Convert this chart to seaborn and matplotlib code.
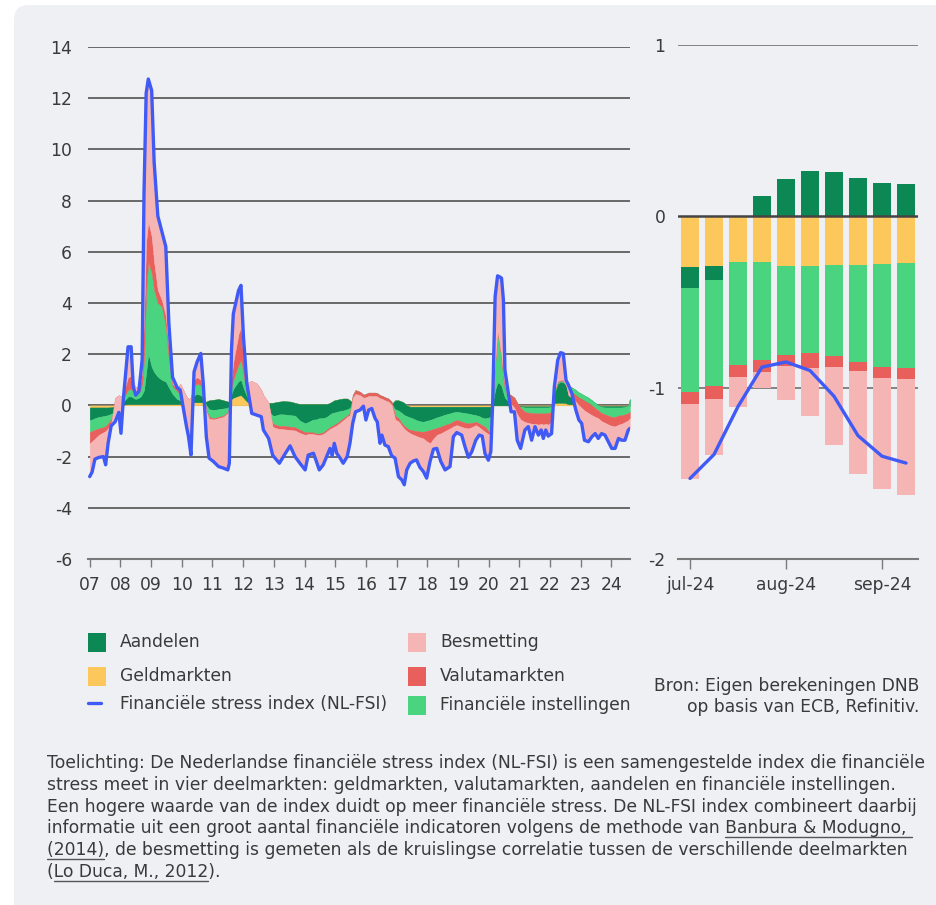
"""NL-FSI stress index chart: stacked contributions plus weekly zoom panel."""
import numpy as np
import matplotlib
matplotlib.use("Agg")
import matplotlib.pyplot as plt
import seaborn as sns
from matplotlib.patches import FancyBboxPatch, Rectangle
from matplotlib.lines import Line2D

W, H = 937, 905

# ---- left panel: monthly-ish history 2007 - 2024 (decimal years)
years = [2007.00, 2007.08, 2007.17, 2007.30, 2007.45, 2007.52, 2007.60, 2007.70, 2007.83, 2007.95,
         2008.02, 2008.10, 2008.25, 2008.35, 2008.42, 2008.50, 2008.60, 2008.66, 2008.71, 2008.77,
         2008.84, 2008.91, 2009.02, 2009.10, 2009.22, 2009.35, 2009.48, 2009.58, 2009.70, 2009.85,
         2009.95, 2010.05, 2010.15, 2010.22, 2010.30, 2010.40, 2010.50, 2010.62, 2010.70, 2010.80,
         2010.89, 2011.03, 2011.20, 2011.36, 2011.50, 2011.55, 2011.62, 2011.68, 2011.85, 2011.93,
         2012.01, 2012.12, 2012.28, 2012.45, 2012.59, 2012.66, 2012.83, 2012.96, 2013.04, 2013.18,
         2013.31, 2013.53, 2013.69, 2013.85, 2014.02, 2014.12, 2014.29, 2014.37, 2014.48, 2014.61,
         2014.72, 2014.83, 2014.90, 2014.97, 2015.05, 2015.16, 2015.26, 2015.39, 2015.48, 2015.57,
         2015.66, 2015.81, 2015.92, 2016.00, 2016.09, 2016.19, 2016.30, 2016.37, 2016.46, 2016.52,
         2016.62, 2016.73, 2016.84, 2016.95, 2017.06, 2017.17, 2017.25, 2017.33, 2017.44, 2017.55,
         2017.65, 2017.76, 2017.87, 2017.98, 2018.09, 2018.20, 2018.31, 2018.44, 2018.58, 2018.74,
         2018.85, 2018.96, 2019.12, 2019.23, 2019.34, 2019.45, 2019.58, 2019.69, 2019.79, 2019.88,
         2019.99, 2020.07, 2020.13, 2020.21, 2020.29, 2020.36, 2020.42, 2020.48, 2020.53, 2020.64,
         2020.73, 2020.84, 2020.93, 2021.04, 2021.18, 2021.29, 2021.40, 2021.51, 2021.62, 2021.71,
         2021.78, 2021.86, 2021.94, 2022.05, 2022.14, 2022.25, 2022.34, 2022.43, 2022.52, 2022.60,
         2022.71, 2022.84, 2022.94, 2023.03, 2023.12, 2023.25, 2023.36, 2023.47, 2023.57, 2023.68,
         2023.79, 2023.90, 2024.01, 2024.12, 2024.23, 2024.33, 2024.44, 2024.55, 2024.60]

geldmarkten = [-0.08, -0.08, -0.08, -0.08, -0.08, -0.08, -0.08, -0.07, -0.05, -0.05,
               -0.05, 0.03, 0.05, 0.05, 0.05, 0.05, 0.05, 0.05, 0.05, 0.05,
               0.05, 0.05, 0.05, 0.05, 0.05, 0.05, 0.05, 0.05, 0.05, 0.05,
               0.05, 0.08, 0.10, 0.10, 0.12, 0.12, 0.12, 0.12, 0.12, 0.15,
               0.20, 0.22, 0.25, 0.20, 0.15, 0.15, 0.25, 0.30, 0.38, 0.40,
               0.30, 0.15, 0.10, 0.10, 0.08, 0.08, 0.10, 0.10, 0.12, 0.15,
               0.17, 0.15, 0.10, 0.05, 0.05, 0.05, 0.05, 0.05, 0.05, 0.05,
               0.05, 0.10, 0.15, 0.20, 0.22, 0.25, 0.27, 0.27, 0.20, 0.10,
               0.05, 0.05, 0.05, 0.05, 0.05, 0.05, 0.05, 0.05, 0.05, 0.05,
               0.05, 0.05, 0.05, 0.20, 0.20, 0.15, 0.10, 0.00, -0.05, -0.05,
               -0.05, -0.05, -0.05, -0.05, -0.05, -0.05, -0.05, -0.05, -0.05, -0.05,
               -0.05, -0.05, -0.05, -0.05, -0.05, -0.05, -0.05, -0.05, -0.05, -0.05,
               -0.05, -0.05, 0.00, 0.00, 0.00, 0.00, 0.00, 0.00, 0.00, 0.00,
               0.00, -0.02, -0.02, -0.02, -0.03, -0.03, -0.03, -0.03, -0.03, -0.03,
               -0.03, -0.03, -0.03, -0.02, 0.08, 0.10, 0.10, 0.10, 0.08, 0.05,
               0.05, 0.05, 0.05, 0.05, 0.03, 0.02, 0.00, 0.00, -0.02, -0.02,
               -0.02, -0.02, -0.02, -0.02, -0.02, -0.02, -0.02, -0.02, -0.02]

aandelen = [-0.49, -0.47, -0.42, -0.37, -0.34, -0.32, -0.30, -0.26, -0.20, -0.15,
            -0.10, 0.12, 0.30, 0.30, 0.25, 0.20, 0.25, 0.30, 0.40, 0.55,
            1.25, 1.98, 1.45, 1.25, 1.07, 0.95, 0.88, 0.65, 0.40, 0.20,
            0.15, 0.04, 0.05, 0.05, 0.08, 0.28, 0.33, 0.28, 0.18, -0.15,
            -0.35, -0.40, -0.40, -0.32, -0.25, -0.15, 0.20, 0.35, 0.57, 0.60,
            0.40, 0.20, 0.10, 0.05, 0.02, -0.03, -0.30, -0.50, -0.52, -0.50,
            -0.52, -0.53, -0.50, -0.65, -0.75, -0.70, -0.60, -0.60, -0.55, -0.55,
            -0.50, -0.45, -0.45, -0.48, -0.47, -0.47, -0.47, -0.42, -0.30, 0.00,
            0.05, 0.05, 0.05, 0.05, 0.05, 0.05, 0.05, 0.05, 0.05, 0.05,
            0.05, 0.03, 0.00, -0.35, -0.40, -0.45, -0.48, -0.42, -0.42, -0.47,
            -0.53, -0.57, -0.59, -0.55, -0.52, -0.47, -0.42, -0.37, -0.31, -0.26,
            -0.22, -0.20, -0.23, -0.25, -0.27, -0.30, -0.33, -0.37, -0.43, -0.46,
            -0.43, -0.39, 0.10, 0.60, 0.90, 0.85, 0.75, 0.50, 0.30, 0.15,
            0.10, 0.07, -0.01, -0.03, -0.05, -0.05, -0.05, -0.05, -0.05, -0.05,
            -0.05, -0.05, -0.05, -0.03, 0.42, 0.75, 0.83, 0.80, 0.72, 0.70,
            0.65, 0.55, 0.45, 0.40, 0.35, 0.28, 0.20, 0.10, 0.02, -0.04,
            -0.06, -0.06, -0.06, -0.06, -0.06, -0.06, -0.04, 0.02, 0.27]

financiele_instellingen = [-0.48, -0.45, -0.45, -0.45, -0.43, -0.40, -0.32, -0.22, -0.15, -0.10,
                           -0.10, 0.15, 0.25, 0.30, 0.25, 0.20, 0.20, 0.25, 0.40, 1.20,
                           3.20, 3.59, 3.66, 3.20, 2.88, 2.86, 2.15, 1.10, 0.30, 0.30,
                           0.25, 0.08, 0.05, 0.05, 0.05, 0.35, 0.40, 0.40, 0.15, -0.20,
                           -0.30, -0.32, -0.30, -0.28, -0.15, -0.10, 0.25, 0.35, 0.65, 0.77,
                           0.50, 0.15, 0.10, 0.10, 0.10, 0.05, -0.25, -0.30, -0.35, -0.45,
                           -0.45, -0.45, -0.45, -0.35, -0.35, -0.40, -0.50, -0.55, -0.60, -0.55,
                           -0.50, -0.50, -0.50, -0.47, -0.45, -0.38, -0.30, -0.25, -0.20, 0.30,
                           0.50, 0.43, 0.32, 0.35, 0.40, 0.40, 0.40, 0.38, 0.30, 0.28,
                           0.22, 0.19, 0.09, -0.25, -0.30, -0.40, -0.42, -0.46, -0.49, -0.46,
                           -0.42, -0.40, -0.39, -0.40, -0.39, -0.40, -0.41, -0.41, -0.40, -0.39,
                           -0.35, -0.32, -0.35, -0.38, -0.38, -0.33, -0.26, -0.28, -0.30, -0.32,
                           -0.52, -0.66, 0.10, 1.00, 1.90, 1.45, 1.05, 0.50, 0.30, 0.30,
                           0.30, 0.25, 0.13, -0.05, -0.17, -0.20, -0.22, -0.22, -0.24, -0.22,
                           -0.24, -0.22, -0.22, -0.20, 0.05, 0.05, 0.04, 0.05, 0.05, -0.20,
                           -0.20, -0.20, -0.20, -0.20, -0.20, -0.20, -0.20, -0.20, -0.20, -0.24,
                           -0.27, -0.32, -0.37, -0.37, -0.32, -0.30, -0.29, -0.30, -0.50]

valutamarkten = [-0.43, -0.40, -0.35, -0.25, -0.20, -0.20, -0.20, -0.15, 0.70, 0.70,
                 0.60, 0.20, 0.50, 0.50, 0.35, 0.25, 0.25, 0.35, 0.45, 1.70,
                 1.90, 1.56, 1.44, 1.10, 0.50, 0.26, 0.42, 0.40, 0.10, 0.10,
                 0.40, 0.40, 0.15, 0.05, 0.05, 0.25, 0.25, 0.20, 0.10, -0.05,
                 -0.07, -0.05, -0.05, -0.05, -0.05, -0.05, 0.40, 0.70, 1.20, 1.29,
                 0.60, 0.40, 0.65, 0.60, 0.40, 0.30, 0.55, -0.13, -0.13, -0.12,
                 -0.13, -0.13, -0.13, -0.13, -0.10, -0.07, -0.07, -0.05, -0.06, -0.07,
                 -0.07, -0.07, -0.08, -0.08, -0.08, -0.08, -0.08, -0.05, -0.08, -0.10,
                 -0.15, -0.13, -0.12, -0.13, -0.13, -0.13, -0.13, -0.13, -0.12, -0.12,
                 -0.12, -0.12, -0.12, -0.15, -0.12, -0.10, -0.12, -0.12, -0.13, -0.17,
                 -0.20, -0.23, -0.26, -0.40, -0.52, -0.38, -0.27, -0.26, -0.24, -0.20,
                 -0.20, -0.20, -0.21, -0.20, -0.20, -0.17, -0.13, -0.15, -0.17, -0.20,
                 -0.12, -0.06, 0.05, 0.10, 0.10, 0.10, 0.10, 0.20, 0.20, -0.35,
                 -0.35, -0.40, -0.45, -0.45, -0.40, -0.40, -0.42, -0.42, -0.43, -0.42,
                 -0.43, -0.42, -0.45, -0.40, 0.05, 0.05, 0.03, 0.05, -0.05, -0.15,
                 -0.20, -0.25, -0.30, -0.35, -0.38, -0.40, -0.38, -0.35, -0.30, -0.32,
                 -0.33, -0.35, -0.35, -0.37, -0.35, -0.34, -0.30, -0.28, -0.25]

besmetting = [-1.30, -1.20, -0.80, -0.88, -0.95, -1.32, -0.58, -0.10, -0.94, -0.67,
              -1.44, -0.20, 1.19, 1.14, -0.17, -0.30, -0.20, 0.25, 0.50, 4.80,
              5.80, 5.57, 5.70, 3.90, 2.90, 2.68, 2.70, 1.00, 0.25, 0.05,
              -0.25, -0.70, -1.15, -1.47, -2.24, 0.31, 0.60, 1.03, 0.31, -0.97,
              -1.54, -1.64, -1.89, -2.00, -2.22, -2.11, 1.06, 1.88, 1.69, 1.63,
              0.88, -0.04, -1.26, -1.23, -1.04, -1.36, -1.39, -1.11, -1.18, -1.34,
              -1.07, -0.62, -1.02, -1.18, -1.37, -0.82, -0.75, -0.98, -1.36, -1.20,
              -0.98, -0.76, -1.09, -0.65, -1.09, -1.38, -1.68, -1.55, -1.10, -1.00,
              -0.70, -0.58, -0.33, -0.89, -0.55, -0.49, -0.88, -0.99, -1.76, -1.42,
              -1.75, -1.76, -1.99, -1.51, -2.16, -2.11, -2.18, -1.52, -1.17, -1.02,
              -0.93, -1.17, -1.29, -1.44, -0.71, -0.41, -0.53, -1.10, -1.52, -1.49,
              -0.40, -0.29, -0.32, -0.74, -1.13, -0.96, -0.59, -0.31, -0.25, -0.85,
              -1.02, -0.65, -0.17, 2.55, 2.16, 2.62, 3.07, 2.92, 0.58, 0.37,
              -0.30, -0.15, -1.01, -1.13, -0.31, -0.15, -0.64, -0.11, -0.41, -0.24,
              -0.54, -0.24, -0.45, -0.45, 0.13, 0.82, 1.06, 1.03, 0.19, 0.40,
              0.17, -0.33, -0.57, -0.60, -1.16, -1.12, -0.85, -0.65, -0.79, -0.48,
              -0.48, -0.67, -0.88, -0.86, -0.54, -0.64, -0.71, -0.38, -0.40]

nl_fsi = [-2.78, -2.60, -2.10, -2.03, -2.00, -2.32, -1.48, -0.80, -0.64, -0.27,
          -1.09, 0.30, 2.29, 2.29, 0.73, 0.40, 0.55, 1.20, 1.80, 8.30,
          12.20, 12.75, 12.30, 9.50, 7.40, 6.80, 6.20, 3.20, 1.10, 0.70,
          0.60, -0.10, -0.80, -1.22, -1.94, 1.31, 1.70, 2.03, 0.86, -1.22,
          -2.06, -2.19, -2.39, -2.45, -2.52, -2.26, 2.16, 3.58, 4.49, 4.69,
          2.68, 0.86, -0.31, -0.38, -0.44, -0.96, -1.29, -1.94, -2.06, -2.26,
          -2.00, -1.58, -2.00, -2.26, -2.52, -1.94, -1.87, -2.13, -2.52, -2.32,
          -2.00, -1.68, -1.97, -1.48, -1.87, -2.06, -2.26, -2.00, -1.48, -0.70,
          -0.25, -0.18, -0.03, -0.57, -0.18, -0.12, -0.51, -0.64, -1.48, -1.16,
          -1.55, -1.61, -1.97, -2.06, -2.78, -2.91, -3.10, -2.52, -2.26, -2.17,
          -2.13, -2.42, -2.58, -2.84, -2.19, -1.71, -1.68, -2.19, -2.52, -2.39,
          -1.22, -1.06, -1.16, -1.62, -2.03, -1.81, -1.36, -1.16, -1.20, -1.88,
          -2.14, -1.81, 0.08, 4.25, 5.06, 5.02, 4.97, 4.12, 1.38, 0.47,
          -0.25, -0.25, -1.36, -1.68, -0.96, -0.83, -1.36, -0.83, -1.16, -0.96,
          -1.29, -0.96, -1.20, -1.10, 0.73, 1.77, 2.06, 2.03, 0.99, 0.80,
          0.47, -0.18, -0.57, -0.70, -1.36, -1.42, -1.23, -1.10, -1.29, -1.10,
          -1.16, -1.42, -1.68, -1.68, -1.29, -1.36, -1.36, -0.96, -0.90]

year_ticks = list(range(2007, 2025))
year_labels = ["07", "08", "09", "10", "11", "12", "13", "14", "15",
               "16", "17", "18", "19", "20", "21", "22", "23", "24"]
left_yticks = list(range(-6, 15, 2))

# ---- right panel: weekly, jul - sep 2024
weeks = list(range(10))
week_ticks = [0, 4, 8]
week_labels = ["jul-24", "aug-24", "sep-24"]
w_geldmarkten = [-0.294, -0.288, -0.265, -0.265, -0.288, -0.288, -0.283, -0.283, -0.277, -0.271]
w_aandelen = [-0.123, -0.082, 0.0, 0.121, 0.220, 0.267, 0.261, 0.226, 0.197, 0.186]
w_financiele = [-0.608, -0.620, -0.602, -0.573, -0.520, -0.512, -0.532, -0.567, -0.602, -0.614]
w_valuta = [-0.070, -0.076, -0.070, -0.070, -0.068, -0.084, -0.064, -0.053, -0.064, -0.064]
w_besmetting = [-0.439, -0.327, -0.175, -0.094, -0.195, -0.281, -0.456, -0.602, -0.649, -0.678]
w_fsi = [-1.53, -1.39, -1.11, -0.88, -0.85, -0.90, -1.05, -1.28, -1.40, -1.44]
right_yticks = [-2, -1, 0, 1]

# ---- styling
BG = "#eef0f4"
TEXT = "#3a3a3a"
GRID = "#454545"
AXIS = "#7a7a7a"
BLUE = "#3f5af5"
C_GELD = "#fcc85b"
C_AAND = "#0c8855"
C_FIN = "#4bd480"
C_VAL = "#e95f5c"
C_BES = "#f5b5b5"
STACK_COLORS = [C_GELD, C_AAND, C_FIN, C_VAL, C_BES]
FS = 12.3

sns.set_theme(style="white")
plt.rcParams["font.family"] = ["DejaVu Sans"]
plt.rcParams["axes.unicode_minus"] = False


def fx(x):
    return x / W


def fy(y):
    return 1 - y / H


fig = plt.figure(figsize=(W / 100, H / 100), dpi=100)
fig.patch.set_facecolor("white")
fig.patches.append(FancyBboxPatch((fx(14), -0.05), 1.1, fy(5) + 0.05,
                                  boxstyle="round,pad=0,rounding_size=0.016",
                                  transform=fig.transFigure, facecolor=BG,
                                  edgecolor="none", zorder=-10))

ax = fig.add_axes([fx(88), fy(559), fx(630) - fx(88), fy(47) - fy(559)])
ax2 = fig.add_axes([fx(678), fy(559), fx(918) - fx(678), fy(45) - fy(559)])
for a in (ax, ax2):
    a.set_facecolor("none")
    for side in ("top", "left", "right"):
        a.spines[side].set_visible(False)
    a.spines["bottom"].set_color(AXIS)
    a.spines["bottom"].set_linewidth(1.5)

# ---- left: naive cumulative stacked areas + index line
for v in left_yticks[1:]:
    ax.axhline(v, color=GRID, lw=1.1, zorder=1)
stack = np.array([geldmarkten, aandelen, financiele_instellingen, valutamarkten, besmetting])
tops = np.cumsum(stack, axis=0)
bottom = np.zeros(len(years))
for top, color in zip(tops, STACK_COLORS):
    ax.fill_between(years, bottom, top, facecolor=color, edgecolor=color, linewidth=0.3, zorder=2)
    bottom = top
sns.lineplot(x=years, y=nl_fsi, ax=ax, color=BLUE, linewidth=2.4, zorder=4)
ax.set_xlim(2006.945, 2024.605)
ax.set_ylim(-6, 14)
ax.set_xticks(year_ticks)
ax.set_xticklabels(year_labels)
ax.set_yticks(left_yticks)
ax.set_yticklabels([str(v) for v in left_yticks])
ax.tick_params(axis="x", direction="out", length=6, width=1, color=AXIS, pad=6,
               labelsize=FS, labelcolor=TEXT, bottom=True)
ax.tick_params(axis="y", length=0, pad=11.5, labelsize=FS, labelcolor=TEXT)
ax.set_xlabel("")
ax.set_ylabel("")

# ---- right: weekly stacked bars (positive / negative stacks separate) + index line
for v in (1, -1):
    ax2.axhline(v, color=AXIS, lw=1.3, zorder=1)
pos = np.zeros(len(weeks))
neg = np.zeros(len(weeks))
for vals, color in zip([w_geldmarkten, w_aandelen, w_financiele, w_valuta, w_besmetting], STACK_COLORS):
    v = np.array(vals)
    base = np.where(v >= 0, pos, neg)
    ax2.bar(weeks, v, bottom=base, width=0.75, color=color, linewidth=0, zorder=2)
    pos = pos + np.clip(v, 0, None)
    neg = neg + np.clip(v, None, 0)
ax2.axhline(0, color="#444444", lw=1.8, zorder=3)
sns.lineplot(x=weeks, y=w_fsi, ax=ax2, color=BLUE, linewidth=2.4, zorder=4)
ax2.set_xlim(-0.5, 9.5)
ax2.set_ylim(-2, 1)
ax2.set_xticks(week_ticks)
ax2.set_xticklabels(week_labels)
ax2.set_yticks(right_yticks)
ax2.set_yticklabels([str(v) for v in right_yticks])
ax2.tick_params(axis="x", direction="out", length=7, width=1, color=AXIS, pad=5,
                labelsize=FS, labelcolor=TEXT, bottom=True)
ax2.tick_params(axis="y", length=0, pad=9, labelsize=FS, labelcolor=TEXT)
ax2.set_xlabel("")
ax2.set_ylabel("")

# ---- legend (manual, two columns)
legend_rows = [
    ("Aandelen", C_AAND, 88, 642),
    ("Geldmarkten", C_GELD, 88, 676),
    ("Besmetting", C_BES, 408, 642),
    ("Valutamarkten", C_VAL, 408, 676),
    ("Financiële instellingen", C_FIN, 408, 705),
]
for label, color, x, y in legend_rows:
    fig.add_artist(Rectangle((fx(x), fy(y + 9.5)), fx(18), 19 / H, transform=fig.transFigure,
                             facecolor=color, edgecolor="none"))
    fig.text(fx(x + 32), fy(y), label, ha="left", va="center", fontsize=FS, color=TEXT)
fig.add_artist(Line2D([fx(88), fx(101)], [fy(703), fy(703)], color=BLUE, lw=2.4,
                      transform=fig.transFigure))
fig.text(fx(120), fy(704), "Financiële stress index (NL-FSI)", ha="left", va="center",
         fontsize=FS, color=TEXT)

fig.text(fx(919), fy(686), "Bron: Eigen berekeningen DNB", ha="right", va="center",
         fontsize=FS, color=TEXT)
fig.text(fx(919), fy(707), "op basis van ECB, Refinitiv.", ha="right", va="center",
         fontsize=FS, color=TEXT)

# ---- footnote with underlined references
note_lines = [
    "Toelichting: De Nederlandse financiële stress index (NL-FSI) is een samengestelde index die financiële",
    "stress meet in vier deelmarkten: geldmarkten, valutamarkten, aandelen en financiële instellingen.",
    "Een hogere waarde van de index duidt op meer financiële stress. De NL-FSI index combineert daarbij",
    "informatie uit een groot aantal financiële indicatoren volgens de methode van Banbura & Modugno,",
    "(2014), de besmetting is gemeten als de kruislingse correlatie tussen de verschillende deelmarkten",
    "(Lo Duca, M., 2012).",
]
underlined = {3: "Banbura & Modugno, ", 4: "(2014)", 5: "Lo Duca, M., 2012"}

renderer = fig.canvas.get_renderer()


def text_width(s, size):
    t = fig.text(0, 0, s + "|", fontsize=size)
    bar = fig.text(0, 0, "|", fontsize=size)
    w = t.get_window_extent(renderer).width - bar.get_window_extent(renderer).width
    t.remove()
    bar.remove()
    return w


note_fs = 12.0
note_fs = note_fs * 872 / text_width(note_lines[0], note_fs)
for i, line in enumerate(note_lines):
    base_y = 763 + i * 21.8 + 5
    fig.text(fx(47), fy(base_y), line, ha="left", va="baseline", fontsize=note_fs, color=TEXT)
    if i in underlined:
        part = underlined[i]
        start = line.index(part.rstrip())
        x0 = 47 + text_width(line[:start], note_fs)
        x1 = x0 + text_width(part, note_fs)
        fig.add_artist(Line2D([fx(x0), fx(x1)], [fy(base_y + 3.5)] * 2, color="#555555",
                              lw=1.0, transform=fig.transFigure))

fig.savefig("out.png", dpi=100, facecolor="white")
